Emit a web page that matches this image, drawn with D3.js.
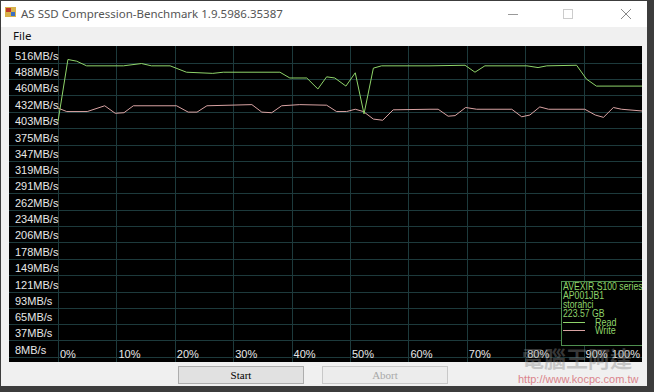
<!DOCTYPE html>
<html>
<head>
<meta charset="utf-8">
<script src="https://cdn.jsdelivr.net/npm/d3@7"></script>
<style>
  body { margin: 0; background: #ffffff; }
  svg { display: block; }
</style>
</head>
<body>
<div id="chart"></div>
<script>
// Chart data
var yTicks = [516, 488, 460, 432, 403, 375, 347, 319, 291, 262, 234, 206, 178, 149, 121, 93, 65, 37, 8];
var xTicks = [0, 10, 20, 30, 40, 50, 60, 70, 80, 90, 100];

// compression % / MB/s
var readPct = [0, 1.7, 3.2, 4.9, 11.2, 14.3, 16, 19.2, 22, 26.5, 28.3, 38, 39.7, 42.6, 44.5, 46, 47.4, 49.3, 50.9, 52.4, 54, 55.4, 63.7, 69.7, 71.4, 73.1, 80.3, 82.2, 83.7, 88.8, 90.5, 92.2, 100];
var readVal = [403, 510, 507, 499, 499, 503, 499, 499, 488, 486, 488, 488, 478, 478, 459, 480, 478, 464, 487, 416, 495, 499, 499, 500, 488, 499, 499, 496, 499, 500, 476, 464, 464];

var writePct = [0, 1.5, 5, 8, 9.8, 11.3, 12.9, 20.3, 22.3, 23.8, 25.5, 33.2, 34.9, 36.6, 38.3, 41.4, 46, 47.7, 49.4, 50.9, 52.3, 54, 55.6, 57.4, 63.7, 65.1, 66.8, 68, 69.8, 71.7, 77.7, 79.4, 80.8, 82.5, 84, 90.2, 92, 93.4, 95.1, 96.5, 100];
var writeVal = [426, 420, 420, 430, 417, 418, 430, 430, 419, 419, 430, 432, 419, 418, 430, 432, 431, 420, 420, 424, 420, 407, 405, 423, 424, 424, 412, 413, 427, 424, 424, 411, 414, 428, 424, 424, 414, 410, 427, 424, 421];

var legendLines = ["AVEXIR S100 series", "AP001JB1", "storahci", "223.57 GB"];
var seriesNames = ["Read", "Write"];
var seriesColors = ["#8fd46a", "#d9a3a3"];

var svgWidth = 654;
var svgHeight = 392;

var svg = d3.select("#chart").append("svg")
  .attr("width", svgWidth)
  .attr("height", svgHeight);

// window frame
svg.append("rect").attr("x", 0).attr("y", 0).attr("width", svgWidth).attr("height", svgHeight).attr("fill", "#3c3c3c");
svg.append("rect").attr("x", 1).attr("y", 1).attr("width", 646).attr("height", 385).attr("fill", "#f0f0f0");
svg.append("rect").attr("x", 1).attr("y", 1).attr("width", 646).attr("height", 26).attr("fill", "#ffffff");

// title bar
var icon = svg.append("g").attr("transform", "translate(5,7)");
icon.append("rect").attr("width", 11).attr("height", 10).attr("fill", "#d8b24a");
icon.append("rect").attr("x", 1).attr("y", 1).attr("width", 5).attr("height", 4).attr("fill", "#c0392b");
icon.append("rect").attr("x", 6).attr("y", 5).attr("width", 4).attr("height", 4).attr("fill", "#3a6fc4");

svg.append("text").attr("x", 21).attr("y", 18)
  .attr("font-family", "Noto Sans, Open Sans, sans-serif").attr("font-size", 11.5)
  .attr("fill", "#555").text("AS SSD Compression-Benchmark 1.9.5986.35387");
svg.append("line").attr("x1", 508).attr("x2", 518).attr("y1", 14.5).attr("y2", 14.5).attr("stroke", "#999");
svg.append("rect").attr("x", 563.5).attr("y", 9.5).attr("width", 9).attr("height", 9).attr("fill", "none").attr("stroke", "#ccc");
svg.append("path").attr("d", "M621,9 L631,19 M631,9 L621,19").attr("stroke", "#888").attr("stroke-width", 1);

svg.append("text").attr("x", 13).attr("y", 40)
  .attr("font-family", "Noto Sans, Open Sans, sans-serif").attr("font-size", 11.5)
  .attr("fill", "#111").text("File");

// chart area
var area = { left: 9, top: 46, right: 642, bottom: 362 };
svg.append("rect").attr("x", area.left).attr("y", area.top)
  .attr("width", area.right - area.left).attr("height", area.bottom - area.top)
  .attr("fill", "#000");

svg.append("clipPath").attr("id", "clip").append("rect")
  .attr("x", area.left).attr("y", area.top)
  .attr("width", area.right - area.left).attr("height", area.bottom - area.top);

var chartGroup = svg.append("g").attr("clip-path", "url(#clip)");

var xScale = d3.scaleLinear().domain([0, 100]).range([58, 642]);
var yScale = d3.scaleLinear().domain([8, 516]).range([350, 56]);
var gridOffset = 7;

// horizontal grid
chartGroup.selectAll(".hgrid").data(yTicks).enter().append("line")
  .attr("x1", area.left).attr("x2", area.right)
  .attr("y1", d => Math.round(yScale(d) + gridOffset) + 0.5)
  .attr("y2", d => Math.round(yScale(d) + gridOffset) + 0.5)
  .attr("stroke", "#1d3a3c").attr("stroke-width", 1);

// vertical grid
chartGroup.selectAll(".vgrid").data(xTicks.slice(0, 10)).enter().append("line")
  .attr("x1", d => Math.round(xScale(d)) + 0.5).attr("x2", d => Math.round(xScale(d)) + 0.5)
  .attr("y1", area.top).attr("y2", area.bottom)
  .attr("stroke", "#1d3a3c").attr("stroke-width", 1);

// watermark logo text (sits behind the axis labels, as in the screenshot)
svg.append("text").attr("x", 522).attr("y", 367)
  .attr("font-family", "Noto Sans CJK TC, sans-serif").attr("font-size", 22).attr("font-weight", "bold")
  .attr("fill", "#8a8a8a").attr("opacity", 0.4).text("電腦王阿達");

// y labels
chartGroup.selectAll(".ylab").data(yTicks).enter().append("text")
  .attr("x", 15).attr("y", d => yScale(d))
  .attr("dy", "0.36em")
  .attr("font-family", "Liberation Sans, Arial, sans-serif").attr("font-size", 11)
  .attr("fill", "#e8e8e8")
  .text(d => d + "MB/s");

// x labels (last one sits against the right edge)
chartGroup.selectAll(".xlab").data(xTicks).enter().append("text")
  .attr("x", d => d === 100 ? xScale(d) - 2 : xScale(d) + 2).attr("y", 354)
  .attr("dy", "0.36em")
  .attr("text-anchor", d => d === 100 ? "end" : "start")
  .attr("font-family", "Liberation Sans, Arial, sans-serif").attr("font-size", 11)
  .attr("fill", "#e8e8e8")
  .text(d => d + "%");

// series
var line = d3.line().x(d => xScale(d[0])).y(d => yScale(d[1]));
var readData = d3.zip(readPct, readVal);
var writeData = d3.zip(writePct, writeVal);

chartGroup.append("path").datum(writeData).attr("d", line)
  .attr("fill", "none").attr("stroke", seriesColors[1]).attr("stroke-width", 1);
chartGroup.append("path").datum(readData).attr("d", line)
  .attr("fill", "none").attr("stroke", seriesColors[0]).attr("stroke-width", 1);

// legend box
var legend = chartGroup.append("g").attr("transform", "translate(561,281)");
legend.append("rect").attr("x", 0.5).attr("y", 0.5).attr("width", 90).attr("height", 64)
  .attr("fill", "#000").attr("stroke", "#4f8f4f");
legend.selectAll(".info").data(legendLines).enter().append("text")
  .attr("transform", (d, i) => `translate(2, ${5 + i * 9}) scale(0.83, 1)`)
  .attr("dy", "0.36em")
  .attr("font-family", "Liberation Sans, Arial, sans-serif").attr("font-size", 10.5)
  .attr("fill", "#8fd46a")
  .text(d => d);
seriesNames.forEach(function(name, i) {
  legend.append("line").attr("x1", 2).attr("x2", 24)
    .attr("y1", 41.5 + i * 8).attr("y2", 41.5 + i * 8)
    .attr("stroke", seriesColors[i]);
  legend.append("text").attr("transform", `translate(34, ${41 + i * 8}) scale(0.86, 1)`)
    .attr("dy", "0.36em")
    .attr("font-family", "Liberation Sans, Arial, sans-serif").attr("font-size", 10.5)
    .attr("fill", "#8fd46a").text(name);
});

// buttons
var buttons = [
  { label: "Start", x: 178, fill: "#e1e1e1", stroke: "#adadad", color: "#000" },
  { label: "Abort", x: 322, fill: "#ececec", stroke: "#c8c8c8", color: "#a8a8a8" }
];
buttons.forEach(function(b) {
  svg.append("rect").attr("x", b.x + 0.5).attr("y", 366.5).attr("width", 125).attr("height", 17)
    .attr("fill", b.fill).attr("stroke", b.stroke);
  svg.append("text").attr("x", b.x + 63).attr("y", 375).attr("dy", "0.36em")
    .attr("text-anchor", "middle")
    .attr("font-family", "Liberation Serif, Times New Roman, serif").attr("font-size", 11)
    .attr("fill", b.color).text(b.label);
});

svg.append("text").attr("x", 518).attr("y", 383)
  .attr("font-family", "Liberation Sans, Arial, sans-serif").attr("font-size", 11)
  .attr("fill", "#d8707a").attr("opacity", 0.85).text("http://www.kocpc.com.tw");
</script>
</body>
</html>
